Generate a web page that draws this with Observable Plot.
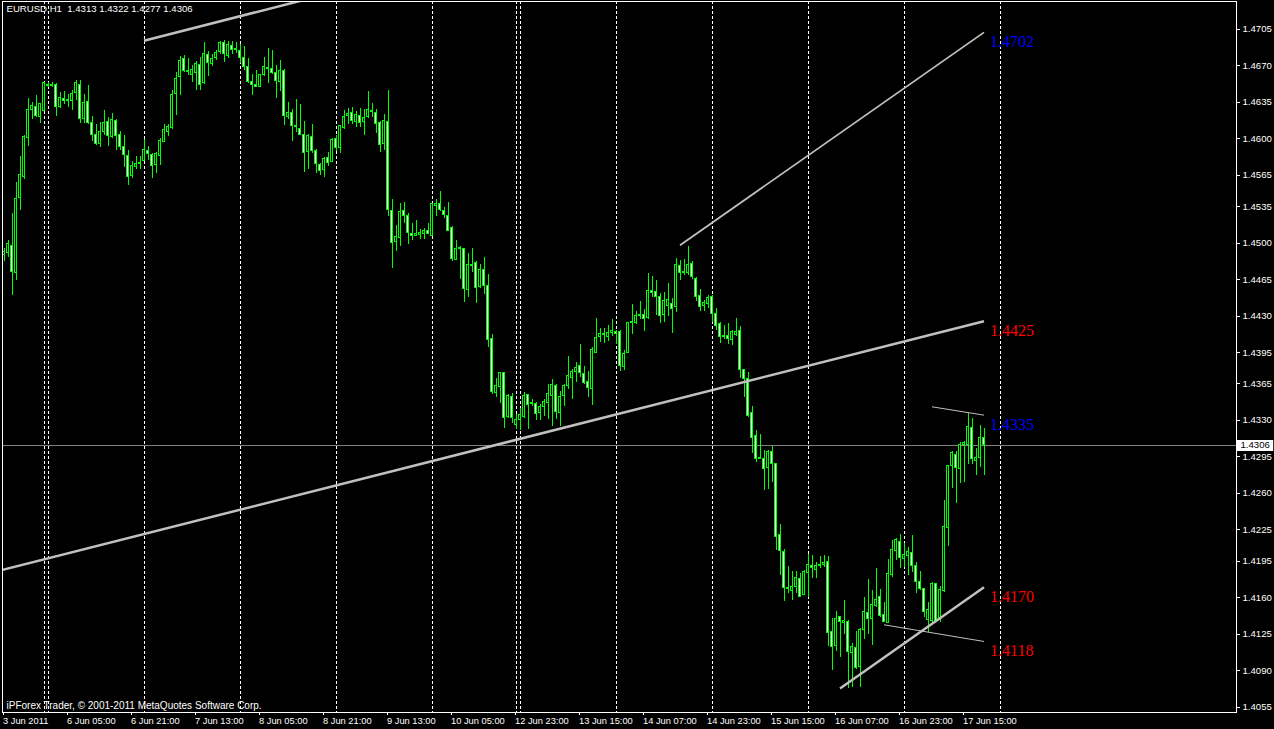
<!DOCTYPE html>
<html><head><meta charset="utf-8">
<script src="https://cdn.jsdelivr.net/npm/d3@7"></script>
<script src="https://cdn.jsdelivr.net/npm/@observablehq/plot@0.6"></script>
<style>html,body{margin:0;padding:0;background:#000;overflow:hidden}</style>
</head><body><div id="chart"></div>
<script>
// ---- data (EURUSD H1, bar index 0 = 3 Jun 2011 11:00) ----
const symbol = "EURUSD";
const period = "H1";
const opens = [1.4489,1.4490,1.4497,1.4471,1.4543,1.4563,1.4601,1.4628,1.4630,1.4621,1.4627,1.4652,1.4651,1.4652,1.4630,1.4638,1.4636,1.4636,1.4644,1.4652,1.4619,1.4635,1.4615,1.4604,1.4595,1.4606,1.4616,1.4602,1.4617,1.4604,1.4592,1.4583,1.4564,1.4573,1.4576,1.4579,1.4588,1.4584,1.4575,1.4583,1.4597,1.4606,1.4610,1.4643,1.4659,1.4676,1.4665,1.4661,1.4663,1.4671,1.4653,1.4680,1.4672,1.4677,1.4683,1.4692,1.4679,1.4689,1.4685,1.4684,1.4677,1.4669,1.4654,1.4652,1.4650,1.4661,1.4668,1.4667,1.4663,1.4654,1.4665,1.4621,1.4625,1.4612,1.4609,1.4604,1.4587,1.4602,1.4588,1.4575,1.4570,1.4582,1.4578,1.4600,1.4591,1.4610,1.4622,1.4625,1.4616,1.4622,1.4616,1.4621,1.4627,1.4625,1.4615,1.4595,1.4616,1.4531,1.4501,1.4505,1.4531,1.4526,1.4509,1.4507,1.4508,1.4509,1.4512,1.4507,1.4536,1.4537,1.4531,1.4526,1.4514,1.4484,1.4494,1.4494,1.4455,1.4479,1.4481,1.4458,1.4474,1.4459,1.4408,1.4356,1.4362,1.4375,1.4333,1.4352,1.4326,1.4330,1.4333,1.4354,1.4346,1.4346,1.4337,1.4343,1.4347,1.4353,1.4363,1.4337,1.4353,1.4363,1.4371,1.4376,1.4382,1.4374,1.4367,1.4360,1.4395,1.4410,1.4412,1.4410,1.4414,1.4415,1.4415,1.4381,1.4395,1.4424,1.4423,1.4430,1.4431,1.4428,1.4454,1.4453,1.4448,1.4431,1.4440,1.4442,1.4439,1.4478,1.4471,1.4471,1.4480,1.4466,1.4449,1.4440,1.4442,1.4448,1.4432,1.4422,1.4410,1.4411,1.4407,1.4412,1.4416,1.4378,1.4370,1.4337,1.4315,1.4294,1.4293,1.4284,1.4300,1.4288,1.4220,1.4204,1.4169,1.4166,1.4170,1.4178,1.4163,1.4184,1.4190,1.4187,1.4190,1.4191,1.4194,1.4127,1.4114,1.4141,1.4136,1.4137,1.4107,1.4112,1.4094,1.4129,1.4145,1.4140,1.4152,1.4161,1.4143,1.4136,1.4182,1.4205,1.4213,1.4197,1.4200,1.4203,1.4190,1.4175,1.4168,1.4139,1.4138,1.4173,1.4139,1.4166,1.4227,1.4286,1.4297,1.4283,1.4306,1.4306,1.4323,1.4291,1.4294,1.4313];
const highs = [1.4495,1.4502,1.4528,1.4558,1.4583,1.4603,1.4639,1.4635,1.4641,1.4634,1.4654,1.4654,1.4654,1.4653,1.4644,1.4645,1.4642,1.4646,1.4656,1.4656,1.4642,1.4651,1.4621,1.4614,1.4616,1.4627,1.4620,1.4624,1.4618,1.4607,1.4603,1.4589,1.4578,1.4583,1.4583,1.4599,1.4593,1.4586,1.4587,1.4600,1.4614,1.4614,1.4646,1.4664,1.4679,1.4680,1.4677,1.4670,1.4674,1.4678,1.4692,1.4684,1.4681,1.4685,1.4693,1.4694,1.4693,1.4693,1.4692,1.4690,1.4688,1.4677,1.4662,1.4665,1.4662,1.4678,1.4687,1.4685,1.4670,1.4675,1.4666,1.4635,1.4628,1.4638,1.4633,1.4617,1.4604,1.4614,1.4590,1.4576,1.4582,1.4587,1.4600,1.4603,1.4613,1.4627,1.4629,1.4630,1.4626,1.4629,1.4628,1.4645,1.4634,1.4628,1.4617,1.4623,1.4646,1.4542,1.4517,1.4538,1.4539,1.4528,1.4519,1.4522,1.4513,1.4514,1.4519,1.4538,1.4542,1.4549,1.4534,1.4539,1.4516,1.4502,1.4497,1.4495,1.4490,1.4495,1.4482,1.4479,1.4486,1.4470,1.4412,1.4370,1.4376,1.4376,1.4355,1.4356,1.4336,1.4341,1.4357,1.4355,1.4350,1.4347,1.4345,1.4350,1.4364,1.4369,1.4364,1.4358,1.4364,1.4391,1.4379,1.4385,1.4403,1.4382,1.4377,1.4400,1.4428,1.4418,1.4418,1.4421,1.4427,1.4416,1.4416,1.4397,1.4424,1.4441,1.4434,1.4444,1.4436,1.4471,1.4468,1.4464,1.4452,1.4453,1.4461,1.4447,1.4485,1.4483,1.4484,1.4497,1.4482,1.4467,1.4455,1.4445,1.4450,1.4450,1.4437,1.4424,1.4421,1.4423,1.4416,1.4428,1.4420,1.4379,1.4376,1.4343,1.4320,1.4316,1.4301,1.4301,1.4305,1.4289,1.4230,1.4206,1.4190,1.4185,1.4185,1.4183,1.4186,1.4201,1.4200,1.4194,1.4199,1.4200,1.4199,1.4140,1.4147,1.4142,1.4157,1.4138,1.4116,1.4128,1.4130,1.4160,1.4177,1.4167,1.4188,1.4168,1.4155,1.4197,1.4215,1.4217,1.4221,1.4212,1.4208,1.4220,1.4194,1.4185,1.4169,1.4155,1.4175,1.4174,1.4171,1.4253,1.4287,1.4300,1.4300,1.4309,1.4310,1.4337,1.4332,1.4303,1.4325,1.4322];
const lows = [1.4482,1.4486,1.4450,1.4464,1.4531,1.4561,1.4593,1.4618,1.4620,1.4615,1.4626,1.4649,1.4649,1.4621,1.4629,1.4633,1.4630,1.4627,1.4637,1.4615,1.4615,1.4614,1.4597,1.4594,1.4592,1.4603,1.4593,1.4600,1.4589,1.4589,1.4572,1.4555,1.4562,1.4571,1.4571,1.4578,1.4579,1.4562,1.4567,1.4574,1.4596,1.4602,1.4609,1.4622,1.4641,1.4664,1.4661,1.4654,1.4646,1.4646,1.4652,1.4660,1.4669,1.4675,1.4681,1.4673,1.4677,1.4681,1.4682,1.4672,1.4665,1.4653,1.4641,1.4649,1.4649,1.4660,1.4653,1.4662,1.4639,1.4645,1.4613,1.4618,1.4597,1.4606,1.4603,1.4568,1.4571,1.4586,1.4567,1.4565,1.4563,1.4573,1.4577,1.4588,1.4586,1.4609,1.4614,1.4614,1.4611,1.4611,1.4603,1.4619,1.4620,1.4605,1.4587,1.4589,1.4525,1.4476,1.4492,1.4497,1.4519,1.4499,1.4502,1.4506,1.4503,1.4503,1.4508,1.4506,1.4525,1.4530,1.4524,1.4511,1.4482,1.4483,1.4465,1.4443,1.4448,1.4472,1.4442,1.4456,1.4451,1.4400,1.4355,1.4352,1.4346,1.4322,1.4332,1.4327,1.4321,1.4320,1.4332,1.4321,1.4343,1.4330,1.4330,1.4334,1.4331,1.4324,1.4331,1.4324,1.4343,1.4360,1.4350,1.4366,1.4371,1.4364,1.4352,1.4344,1.4394,1.4405,1.4404,1.4406,1.4410,1.4403,1.4377,1.4378,1.4394,1.4412,1.4422,1.4427,1.4415,1.4427,1.4448,1.4431,1.4423,1.4424,1.4430,1.4413,1.4433,1.4464,1.4469,1.4469,1.4465,1.4444,1.4434,1.4434,1.4437,1.4424,1.4416,1.4404,1.4408,1.4403,1.4402,1.4410,1.4370,1.4352,1.4333,1.4298,1.4290,1.4292,1.4263,1.4264,1.4270,1.4205,1.4181,1.4156,1.4164,1.4157,1.4164,1.4160,1.4162,1.4160,1.4178,1.4178,1.4188,1.4189,1.4113,1.4090,1.4108,1.4103,1.4125,1.4073,1.4074,1.4091,1.4074,1.4120,1.4125,1.4114,1.4151,1.4141,1.4136,1.4135,1.4179,1.4196,1.4188,1.4189,1.4181,1.4184,1.4164,1.4167,1.4141,1.4127,1.4135,1.4136,1.4136,1.4165,1.4209,1.4265,1.4250,1.4269,1.4270,1.4288,1.4288,1.4277,1.4285,1.4277];
const closes = [1.4491,1.4499,1.4472,1.4542,1.4565,1.4602,1.4628,1.4631,1.4622,1.4633,1.4653,1.4651,1.4652,1.4630,1.4639,1.4636,1.4637,1.4643,1.4653,1.4619,1.4634,1.4615,1.4604,1.4595,1.4606,1.4615,1.4603,1.4618,1.4603,1.4592,1.4584,1.4563,1.4574,1.4576,1.4577,1.4589,1.4585,1.4574,1.4585,1.4598,1.4608,1.4611,1.4642,1.4657,1.4675,1.4665,1.4664,1.4666,1.4672,1.4652,1.4681,1.4673,1.4676,1.4682,1.4692,1.4681,1.4690,1.4685,1.4686,1.4677,1.4669,1.4654,1.4652,1.4650,1.4661,1.4669,1.4667,1.4663,1.4655,1.4665,1.4622,1.4625,1.4612,1.4611,1.4604,1.4586,1.4603,1.4588,1.4576,1.4569,1.4581,1.4577,1.4599,1.4591,1.4612,1.4621,1.4624,1.4617,1.4623,1.4615,1.4620,1.4628,1.4626,1.4614,1.4594,1.4617,1.4532,1.4500,1.4506,1.4530,1.4526,1.4510,1.4507,1.4509,1.4510,1.4512,1.4509,1.4537,1.4537,1.4532,1.4527,1.4512,1.4485,1.4494,1.4495,1.4456,1.4479,1.4478,1.4457,1.4474,1.4459,1.4407,1.4357,1.4363,1.4375,1.4332,1.4353,1.4332,1.4330,1.4335,1.4353,1.4345,1.4347,1.4336,1.4343,1.4348,1.4355,1.4364,1.4338,1.4352,1.4363,1.4373,1.4376,1.4380,1.4375,1.4366,1.4361,1.4397,1.4409,1.4413,1.4413,1.4414,1.4416,1.4413,1.4382,1.4394,1.4423,1.4423,1.4430,1.4431,1.4427,1.4454,1.4452,1.4448,1.4430,1.4444,1.4445,1.4437,1.4479,1.4471,1.4472,1.4479,1.4467,1.4448,1.4439,1.4443,1.4447,1.4432,1.4420,1.4410,1.4411,1.4408,1.4415,1.4415,1.4378,1.4370,1.4334,1.4313,1.4293,1.4293,1.4283,1.4300,1.4288,1.4218,1.4205,1.4169,1.4168,1.4170,1.4179,1.4161,1.4185,1.4191,1.4188,1.4190,1.4191,1.4193,1.4126,1.4113,1.4140,1.4137,1.4138,1.4108,1.4113,1.4093,1.4129,1.4146,1.4140,1.4153,1.4158,1.4142,1.4137,1.4183,1.4206,1.4215,1.4198,1.4201,1.4204,1.4190,1.4175,1.4168,1.4146,1.4148,1.4173,1.4137,1.4167,1.4228,1.4286,1.4299,1.4284,1.4306,1.4308,1.4324,1.4293,1.4294,1.4313,1.4306];

// day separators (bar index of first bar of each day)
const daySeparators = [10, 11, 35, 59, 83, 107, 128, 129, 153, 177, 201, 225, 249];
// time axis labels
const xTickIdx = [0, 16, 32, 48, 64, 80, 96, 112, 128, 144, 160, 176, 192, 208, 224, 240];
const xTickLabels = ["3 Jun 2011","6 Jun 05:00","6 Jun 21:00","7 Jun 13:00","8 Jun 05:00","8 Jun 21:00","9 Jun 13:00","10 Jun 05:00","12 Jun 23:00","13 Jun 15:00","14 Jun 07:00","14 Jun 23:00","15 Jun 15:00","16 Jun 07:00","16 Jun 23:00","17 Jun 15:00"];
// price axis labels
const yTicks = [1.4705,1.4670,1.4635,1.4600,1.4565,1.4535,1.4500,1.4465,1.4430,1.4395,1.4365,1.4330,1.4295,1.4260,1.4225,1.4195,1.4160,1.4125,1.4090,1.4055];
// trend lines (bar index / price of both ends) and their labels
const lineStartIdx   = [35, 169, -1, 232, 209, 220];
const lineStartPrice = [1.4694, 1.4498, 1.4186, 1.4343, 1.4073, 1.4134];
const lineEndIdx     = [80, 245, 245, 245, 245, 245];
const lineEndPrice   = [1.4738, 1.4702, 1.4425, 1.4335, 1.4170, 1.4118];
const lineLabels     = ["", "1.4702", "1.4425", "1.4335", "1.4170", "1.4118"];
const copyright = "iPForex Trader, © 2001-2011 MetaQuotes Software Corp.";

// ---- styles ----
const lineWidthsStyle = [2.5, 1.8, 2.5, 1, 2.5, 1];
const labelColorsStyle = ["none", "#0000ff", "#ff0000", "#0000ff", "#ff0000", "#ff0000"];
const LIME = "#00ff00";

const bars = opens.map((o, i) => ({i, o, h: highs[i], l: lows[i], c: closes[i]}));
const trends = lineStartIdx.map((s, k) => ({k, x1: s, y1: lineStartPrice[k], x2: lineEndIdx[k], y2: lineEndPrice[k], label: lineLabels[k]}));
const last = bars[bars.length - 1];
const fmt = v => v.toFixed(4);
const header = `${symbol},${period}\u00a0\u00a0${fmt(last.o)} ${fmt(last.h)} ${fmt(last.l)} ${fmt(last.c)}`;

const xMin = -0.375, xMax = 308.125;

const chart = Plot.plot({
  width: 1274, height: 729,
  marginLeft: 2, marginRight: 38, marginTop: 1, marginBottom: 17,
  style: {background: "#000", color: "#fff", fontFamily: "Liberation Sans, Arial, sans-serif", fontSize: "10px"},
  x: {type: "linear", domain: [xMin, xMax], axis: null},
  y: {domain: [1.40499, 1.47316], axis: null},
  marks: [
    Plot.ruleX(daySeparators, {x: d => d, stroke: "#fff", strokeDasharray: "3,2", shapeRendering: "crispEdges"}),
    Plot.ruleY([last.c], {stroke: "#808080", shapeRendering: "crispEdges"}),
    Plot.ruleX(bars, {x: "i", y1: "l", y2: "h", stroke: LIME, shapeRendering: "crispEdges"}),
    Plot.rect(bars, {x1: d => d.i - 0.25, x2: d => d.i + 0.25, y1: "o", y2: "c",
      fill: d => d.c > d.o ? "#000" : "#fff", stroke: LIME, shapeRendering: "crispEdges"}),
    Plot.link(trends, {x1: "x1", y1: "y1", x2: "x2", y2: "y2", stroke: "#c0c0c0",
      strokeWidth: d => lineWidthsStyle[d.k], clip: true}),
    Plot.text(trends.filter(d => d.label), {x: "x2", y: "y2", text: "label", fill: d => labelColorsStyle[d.k],
      textAnchor: "start", lineAnchor: "top", dx: 6, dy: 3, fontFamily: "Liberation Serif, Times New Roman, serif", fontSize: 16}),
    Plot.frame({stroke: "#fff", shapeRendering: "crispEdges"}),
    Plot.axisY(yTicks, {anchor: "right", tickSize: 3, tickPadding: 3, tickFormat: fmt, stroke: "#fff", fill: "#fff", fontSize: 9.6, shapeRendering: "crispEdges"}),
    Plot.axisX(xTickIdx, {anchor: "bottom", tickSize: 3, tickPadding: 2, tickFormat: i => xTickLabels[xTickIdx.indexOf(i)],
      textAnchor: "start", dx: -1, stroke: "#fff", fill: "#fff", fontSize: 9.3, shapeRendering: "crispEdges"}),
    Plot.ruleY([last.c], {x1: xMax, x2: xMax + 9.3, stroke: "#fff", strokeWidth: 11}),
    Plot.text([last.c], {x: xMax, y: d => d, text: fmt, textAnchor: "start", dx: 4, fill: "#000", fontSize: 9.6}),
    Plot.text([header], {frameAnchor: "top-left", text: d => d, dx: 4, dy: 4, lineAnchor: "top", textAnchor: "start", fill: "#fff", fontSize: 9.6}),
    Plot.text([copyright], {frameAnchor: "bottom-left", text: d => d, dx: 4, dy: -4, lineAnchor: "bottom", textAnchor: "start", fill: "#fff"})
  ]
});
document.getElementById("chart").appendChild(chart);
</script></body></html>
